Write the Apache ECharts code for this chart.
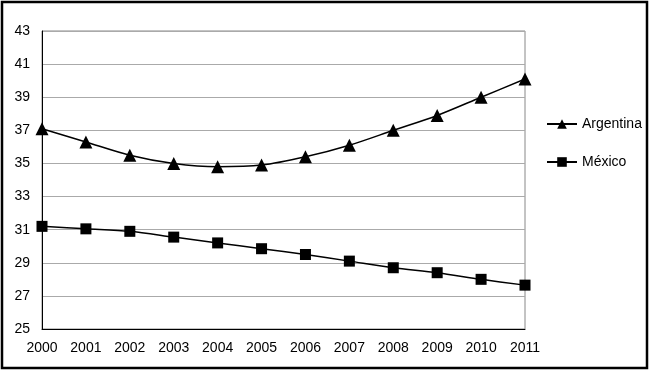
<!DOCTYPE html>
<html><head><meta charset="utf-8">
<script src="https://cdn.jsdelivr.net/npm/echarts@6/dist/echarts.min.js"></script>
<style>html,body{margin:0;padding:0;background:#fff}#c{width:650px;height:371px}</style>
</head><body><div id="c"></div>
<script>
const years = ['2000','2001','2002','2003','2004','2005','2006','2007','2008','2009','2010','2011'];
const argentina = [37.1,36.3,35.5,35.0,34.8,34.9,35.4,36.1,37.0,37.9,39.0,40.1];
const mexico = [31.2,31.05,30.9,30.55,30.2,29.85,29.5,29.1,28.7,28.4,28.0,27.65];
const yTicks = {min:25,max:43,interval:2};
const chart = echarts.init(document.getElementById('c'));
const font = 'Liberation Sans, Arial, sans-serif';
chart.setOption({
  animation:false,
  graphic:[{type:'rect',shape:{x:2,y:2,width:645,height:366},style:{fill:'none',stroke:'#000',lineWidth:2.5},z:100}],
  grid:{left:42,right:125,top:31,bottom:42,show:true,borderColor:'#888',borderWidth:1},
  legend:{orient:'vertical',left:541,top:112,itemGap:24,itemWidth:30,itemHeight:12,
    textStyle:{fontFamily:font,fontSize:14,color:'#000'},data:['Argentina','México']},
  xAxis:{type:'category',data:years,boundaryGap:false,
    axisLine:{lineStyle:{color:'#000',width:1}},axisTick:{show:false},
    axisLabel:{fontFamily:font,fontSize:14,color:'#000',margin:12},splitLine:{show:false}},
  yAxis:{type:'value',min:yTicks.min,max:yTicks.max,interval:yTicks.interval,
    axisLine:{show:true,lineStyle:{color:'#000',width:1}},axisTick:{show:false},
    axisLabel:{fontFamily:font,fontSize:14,color:'#000',margin:12},
    splitLine:{lineStyle:{color:'#aaa',width:1}}},
  series:[
    {name:'Argentina',type:'line',data:argentina,smooth:0.3,symbol:'triangle',symbolSize:13,
     lineStyle:{color:'#000',width:1.5},itemStyle:{color:'#000'}},
    {name:'México',type:'line',data:mexico,smooth:0.3,symbol:'rect',symbolSize:11,
     lineStyle:{color:'#000',width:1.5},itemStyle:{color:'#000'}}
  ]
});
</script></body></html>
